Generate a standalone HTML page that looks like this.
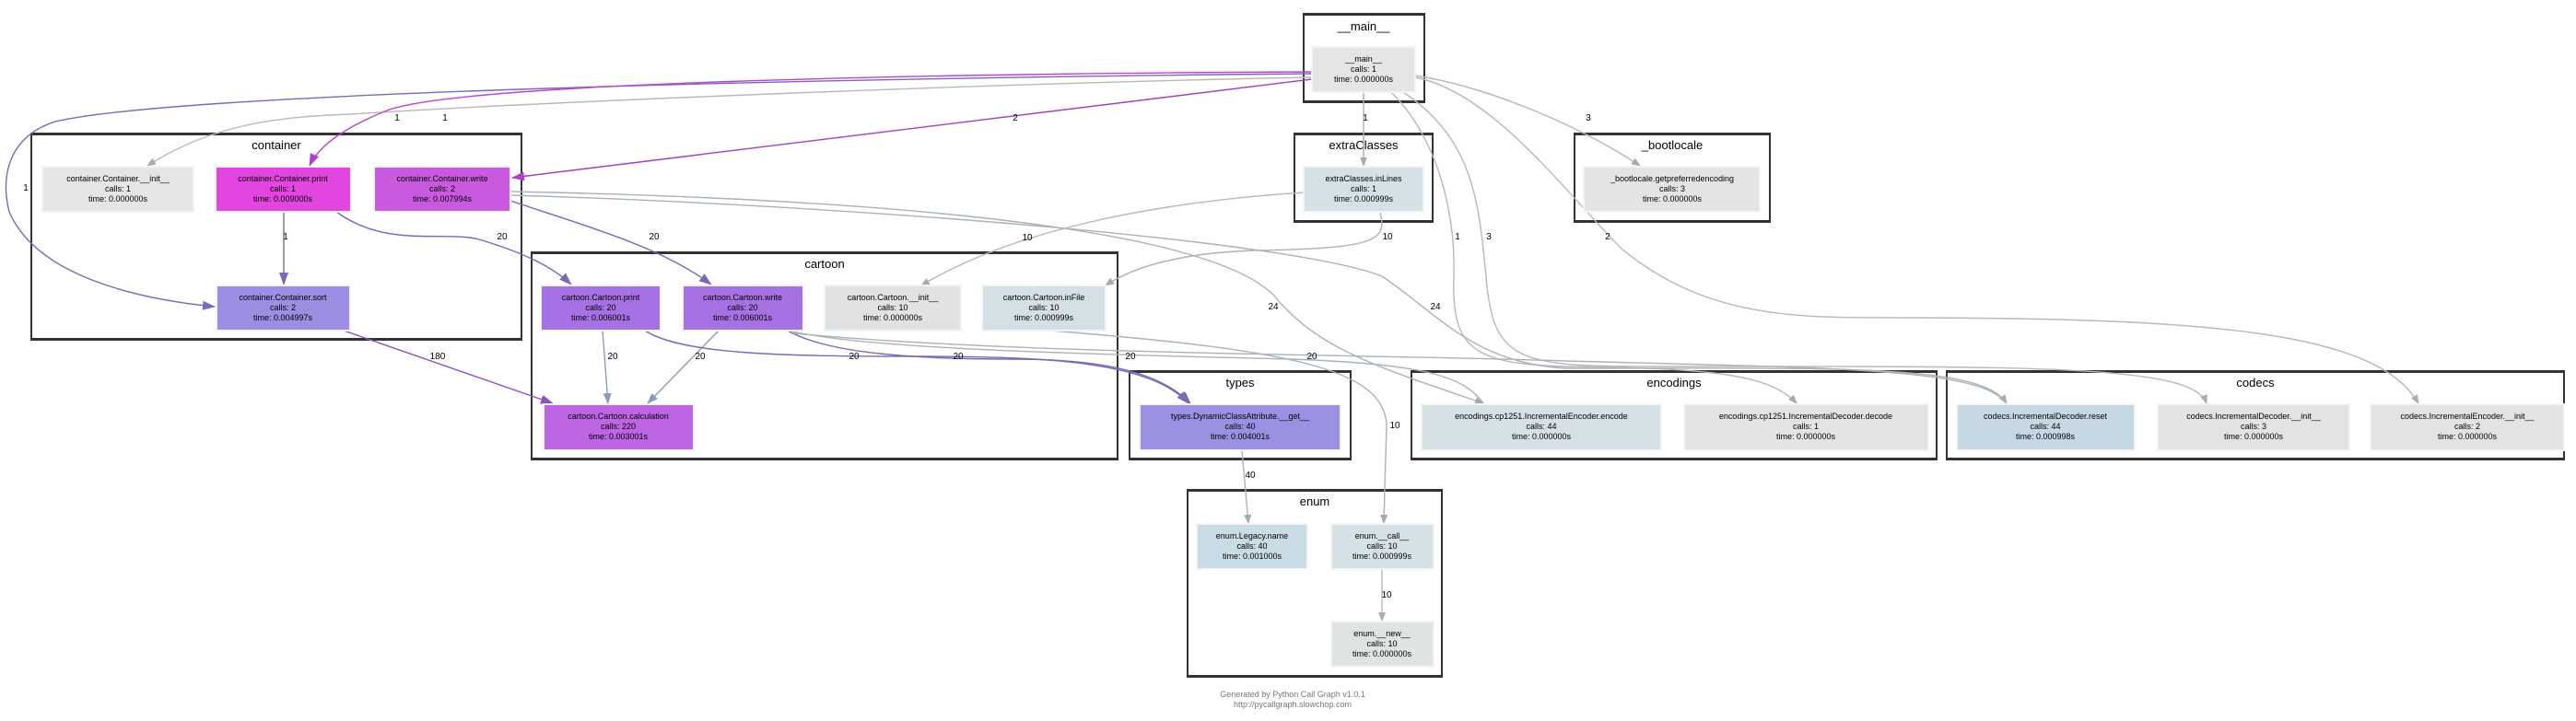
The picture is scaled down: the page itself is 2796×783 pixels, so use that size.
<!DOCTYPE html>
<html><head><meta charset="utf-8"><style>
html,body{margin:0;padding:0;background:#fff;}
svg{display:block;}
text{font-family:"Liberation Sans",sans-serif;}
.n{font-size:9px;text-anchor:middle;fill:#000;}
.c{font-size:13px;text-anchor:middle;fill:#000;}
.l{font-size:10px;text-anchor:middle;fill:#000;}
.cl{fill:none;stroke:#333;stroke-width:2;}
</style></head><body>
<svg width="2796" height="783" viewBox="0 0 2796 783" xmlns="http://www.w3.org/2000/svg">
<defs>
<marker id="ag" markerWidth="10" markerHeight="8" refX="9" refY="4" orient="auto" markerUnits="userSpaceOnUse"><path d="M0,0 L10,4 L0,8z" fill="#aaaaaa"/></marker>
<marker id="ab" markerWidth="10" markerHeight="8" refX="9" refY="4" orient="auto" markerUnits="userSpaceOnUse"><path d="M0,0 L10,4 L0,8z" fill="#a0aab2"/></marker>
<marker id="ap" markerWidth="14" markerHeight="10" refX="13" refY="5" orient="auto" markerUnits="userSpaceOnUse"><path d="M0,0 L14,5 L0,10z" fill="#7a68b8"/></marker>
<marker id="am" markerWidth="14" markerHeight="10" refX="13" refY="5" orient="auto" markerUnits="userSpaceOnUse"><path d="M0,0 L14,5 L0,10z" fill="#b040c8"/></marker>
<marker id="av" markerWidth="14" markerHeight="10" refX="13" refY="5" orient="auto" markerUnits="userSpaceOnUse"><path d="M0,0 L14,5 L0,10z" fill="#9050c0"/></marker>
<marker id="aq" markerWidth="12" markerHeight="9" refX="11" refY="4.5" orient="auto" markerUnits="userSpaceOnUse"><path d="M0,0 L12,4.5 L0,9z" fill="#8c9ac0"/></marker>
</defs>

<!-- clusters -->
<g class="cl">
<rect x="1415" y="16" width="131" height="95"/>
<rect x="1405" y="146" width="150" height="95"/>
<rect x="1709" y="146" width="212" height="95"/>
<rect x="34" y="146" width="532" height="223"/>
<rect x="577" y="275" width="636" height="224"/>
<rect x="1226" y="404" width="240" height="95"/>
<rect x="1532" y="404" width="570" height="95"/>
<rect x="2113" y="404" width="670" height="95"/>
<rect x="1289" y="533" width="276" height="202"/>
</g>
<g fill="#333">
<rect x="1414" y="14" width="133" height="3"/><rect x="1414" y="109" width="133" height="3"/>
<rect x="1404" y="144" width="152" height="3"/><rect x="1404" y="239" width="152" height="3"/>
<rect x="1708" y="144" width="214" height="3"/><rect x="1708" y="239" width="214" height="3"/>
<rect x="33" y="144" width="534" height="3"/><rect x="33" y="367" width="534" height="3"/>
<rect x="576" y="273" width="638" height="3"/><rect x="576" y="497" width="638" height="3"/>
<rect x="1225" y="402" width="242" height="3"/><rect x="1225" y="497" width="242" height="3"/>
<rect x="1531" y="402" width="572" height="3"/><rect x="1531" y="497" width="572" height="3"/>
<rect x="2112" y="402" width="672" height="3"/><rect x="2112" y="497" width="672" height="3"/>
<rect x="1288" y="531" width="278" height="3"/><rect x="1288" y="733" width="278" height="3"/>
</g>
<text class="c" x="1480" y="33">__main__</text>
<text class="c" x="1480" y="162">extraClasses</text>
<text class="c" x="1815" y="162">_bootlocale</text>
<text class="c" x="300" y="162">container</text>
<text class="c" x="895" y="291">cartoon</text>
<text class="c" x="1346" y="420">types</text>
<text class="c" x="1817" y="420">encodings</text>
<text class="c" x="2448" y="420">codecs</text>
<text class="c" x="1427" y="549">enum</text>

<!-- edges -->
<g fill="none" stroke-width="1.4">
<path d="M1424,80 C900,85 200,100 60,132 C10,148 0,190 10,230 C40,300 150,325 233,333" stroke="#7a68b8" marker-end="url(#ap)"/>
<path d="M1424,84 C1100,90 600,110 380,124 C300,127 230,135 160,180" stroke="#b8b8b8" marker-end="url(#ag)"/>
<path d="M1424,78 C1000,80 500,90 420,120 C370,140 345,160 336,180" stroke="#c040d0" marker-end="url(#am)"/>
<path d="M1424,86 L556,193" stroke="#a040c0" marker-end="url(#am)"/>
<path d="M1480,100 L1480,180" stroke="#aaaaaa" marker-end="url(#ag)"/>
<path d="M1536,82 C1620,95 1720,140 1780,180" stroke="#b8b8b8" marker-end="url(#ag)"/>
<path d="M1536,84 C1620,100 1700,210 1760,270 C1850,345 1950,345 2050,345 C2400,345 2580,360 2625,438" stroke="#b8b8b8" marker-end="url(#ag)"/>
<path d="M1510,100 C1560,150 1580,230 1578,300 C1575,380 1600,395 1700,398 C1850,400 1920,405 1950,438" stroke="#b8b8b8" marker-end="url(#ag)"/>
<path d="M1520,98 C1600,150 1605,220 1613,300 C1620,395 1650,398 1800,398 C2200,398 2380,395 2395,438" stroke="#b8b8b8" marker-end="url(#ag)"/>
<path d="M554,208 C900,215 1300,240 1382,320 C1430,380 1500,400 1610,438" stroke="#a8b2ba" marker-end="url(#ab)"/>
<path d="M554,212 C900,222 1400,260 1500,300 C1560,340 1600,395 1700,400 C2000,400 2150,395 2178,438" stroke="#a8b2ba" marker-end="url(#ab)"/>
<path d="M1415,209 C1250,220 1100,250 1000,310" stroke="#b8b8b8" marker-end="url(#ag)"/>
<path d="M1498,230 C1505,260 1500,270 1360,272 C1280,275 1230,290 1200,310" stroke="#a8b2ba" marker-end="url(#ab)"/>
<path d="M1140,359 C1400,380 1500,400 1505,460 L1502,568" stroke="#a8b2ba" marker-end="url(#ab)"/>
<path d="M308,230 L308,309" stroke="#7a68b8" marker-end="url(#ap)"/>
<path d="M365,230 C420,270 480,250 520,260 C570,275 600,290 620,309" stroke="#8060c0" marker-end="url(#ap)"/>
<path d="M554,218 C650,250 720,270 772,309" stroke="#8060c0" marker-end="url(#ap)"/>
<path d="M373,359 L600,438" stroke="#9050c0" marker-end="url(#av)"/>
<path d="M654,359 L660,438" stroke="#8c9ac0" marker-end="url(#aq)"/>
<path d="M780,359 L703,438" stroke="#8c9ac0" marker-end="url(#aq)"/>
<path d="M700,359 C740,385 850,387 1000,387 C1150,387 1250,395 1290,438" stroke="#7a68b8" marker-end="url(#ap)"/>
<path d="M855,359 C900,385 1000,390 1100,390 C1200,390 1260,405 1292,438" stroke="#7a68b8" marker-end="url(#ap)"/>
<path d="M860,360 C950,380 1200,385 1400,390 C1550,395 1590,410 1610,438" stroke="#a8b2ba"/>
<path d="M862,362 C1100,385 1500,385 1700,392 C2000,400 2150,400 2178,438" stroke="#a8b2ba"/>
<path d="M1348,489 L1355,568" stroke="#a8b2ba" marker-end="url(#ab)"/>
<path d="M1500,618 L1500,674" stroke="#b8b8b8" marker-end="url(#ag)"/>
</g>

<!-- edge labels -->
<g class="l">
<text x="431" y="131">1</text><text x="483" y="131">1</text><text x="1102" y="131">2</text>
<text x="28" y="207">1</text><text x="1482" y="131">1</text><text x="1724" y="131">3</text>
<text x="310" y="260">1</text><text x="545" y="260">20</text><text x="710" y="260">20</text>
<text x="1115" y="261">10</text><text x="1506" y="260">10</text>
<text x="1582" y="260">1</text><text x="1616" y="260">3</text><text x="1745" y="260">2</text>
<text x="1382" y="336">24</text><text x="1558" y="336">24</text>
<text x="475" y="390">180</text><text x="665" y="390">20</text><text x="760" y="390">20</text>
<text x="927" y="390">20</text><text x="1040" y="390">20</text><text x="1227" y="390">20</text><text x="1424" y="390">20</text>
<text x="1514" y="465">10</text><text x="1357" y="519">40</text><text x="1505" y="649">10</text>
</g>

<!-- nodes -->
<g stroke="#f4f4f4" stroke-width="2">
<rect x="1424" y="51" width="112" height="49" fill="#e5e5e5"/>
<rect x="1415" y="181" width="130" height="49" fill="#d4e2e6"/>
<rect x="1719" y="181" width="191" height="49" fill="#e3e5e4"/>
<rect x="46" y="181" width="164" height="49" fill="#e5e5e5"/>
<rect x="234" y="181" width="147" height="49" fill="#e346e0"/>
<rect x="406" y="181" width="148" height="49" fill="#c95ae0"/>
<rect x="235" y="310" width="145" height="49" fill="#9b8ee3"/>
<rect x="587" y="310" width="130" height="49" fill="#a672e3"/>
<rect x="741" y="310" width="131" height="49" fill="#a672e3"/>
<rect x="895" y="310" width="148" height="49" fill="#e0e2e3"/>
<rect x="1066" y="310" width="134" height="49" fill="#d4e0e5"/>
<rect x="590" y="439" width="163" height="50" fill="#bd65e3"/>
<rect x="1237" y="439" width="218" height="50" fill="#9b91e3"/>
<rect x="1543" y="439" width="260" height="50" fill="#d5e1e5"/>
<rect x="1828" y="439" width="265" height="50" fill="#e4e4e4"/>
<rect x="2124" y="439" width="193" height="50" fill="#c6d8e3"/>
<rect x="2342" y="439" width="208" height="50" fill="#e3e3e3"/>
<rect x="2573" y="439" width="210" height="50" fill="#e3e3e3"/>
<rect x="1299" y="569" width="120" height="49" fill="#c9dbe5"/>
<rect x="1445" y="569" width="111" height="49" fill="#d5e1e5"/>
<rect x="1445" y="675" width="111" height="49" fill="#e0e3e4"/>
</g>
<g class="n">
<text x="1480" y="67">__main__</text><text x="1480" y="78">calls: 1</text><text x="1480" y="89">time: 0.000000s</text>
<text x="1480" y="197">extraClasses.inLines</text><text x="1480" y="208">calls: 1</text><text x="1480" y="219">time: 0.000999s</text>
<text x="1815" y="197">_bootlocale.getpreferredencoding</text><text x="1815" y="208">calls: 3</text><text x="1815" y="219">time: 0.000000s</text>
<text x="128" y="197">container.Container.__init__</text><text x="128" y="208">calls: 1</text><text x="128" y="219">time: 0.000000s</text>
<text x="307" y="197">container.Container.print</text><text x="307" y="208">calls: 1</text><text x="307" y="219">time: 0.009000s</text>
<text x="480" y="197">container.Container.write</text><text x="480" y="208">calls: 2</text><text x="480" y="219">time: 0.007994s</text>
<text x="307" y="326">container.Container.sort</text><text x="307" y="337">calls: 2</text><text x="307" y="348">time: 0.004997s</text>
<text x="652" y="326">cartoon.Cartoon.print</text><text x="652" y="337">calls: 20</text><text x="652" y="348">time: 0.006001s</text>
<text x="806" y="326">cartoon.Cartoon.write</text><text x="806" y="337">calls: 20</text><text x="806" y="348">time: 0.006001s</text>
<text x="969" y="326">cartoon.Cartoon.__init__</text><text x="969" y="337">calls: 10</text><text x="969" y="348">time: 0.000000s</text>
<text x="1133" y="326">cartoon.Cartoon.inFile</text><text x="1133" y="337">calls: 10</text><text x="1133" y="348">time: 0.000999s</text>
<text x="671" y="455">cartoon.Cartoon.calculation</text><text x="671" y="466">calls: 220</text><text x="671" y="477">time: 0.003001s</text>
<text x="1346" y="455">types.DynamicClassAttribute.__get__</text><text x="1346" y="466">calls: 40</text><text x="1346" y="477">time: 0.004001s</text>
<text x="1673" y="455">encodings.cp1251.IncrementalEncoder.encode</text><text x="1673" y="466">calls: 44</text><text x="1673" y="477">time: 0.000000s</text>
<text x="1960" y="455">encodings.cp1251.IncrementalDecoder.decode</text><text x="1960" y="466">calls: 1</text><text x="1960" y="477">time: 0.000000s</text>
<text x="2220" y="455">codecs.IncrementalDecoder.reset</text><text x="2220" y="466">calls: 44</text><text x="2220" y="477">time: 0.000998s</text>
<text x="2446" y="455">codecs.IncrementalDecoder.__init__</text><text x="2446" y="466">calls: 3</text><text x="2446" y="477">time: 0.000000s</text>
<text x="2678" y="455">codecs.IncrementalEncoder.__init__</text><text x="2678" y="466">calls: 2</text><text x="2678" y="477">time: 0.000000s</text>
<text x="1359" y="585">enum.Legacy.name</text><text x="1359" y="596">calls: 40</text><text x="1359" y="607">time: 0.001000s</text>
<text x="1500" y="585">enum.__call__</text><text x="1500" y="596">calls: 10</text><text x="1500" y="607">time: 0.000999s</text>
<text x="1500" y="691">enum.__new__</text><text x="1500" y="702">calls: 10</text><text x="1500" y="713">time: 0.000000s</text>
</g>
<text x="1403" y="757" style="font-size:9px;text-anchor:middle;fill:#777">Generated by Python Call Graph v1.0.1</text>
<text x="1403" y="768" style="font-size:9px;text-anchor:middle;fill:#777">http://pycallgraph.slowchop.com</text>
</svg>
</body></html>
